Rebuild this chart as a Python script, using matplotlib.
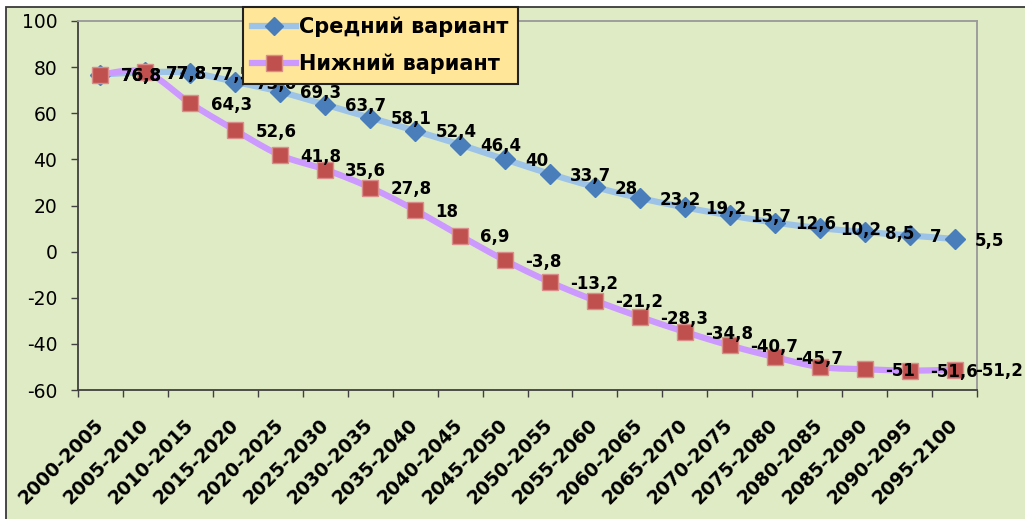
import numpy as np
import matplotlib
matplotlib.use('Agg')
import matplotlib.pyplot as plt
from matplotlib.lines import Line2D
from matplotlib.patches import Rectangle
from matplotlib.transforms import ScaledTranslation

categories = ['2000-2005', '2005-2010', '2010-2015', '2015-2020', '2020-2025',
              '2025-2030', '2030-2035', '2035-2040', '2040-2045', '2045-2050',
              '2050-2055', '2055-2060', '2060-2065', '2065-2070', '2070-2075',
              '2075-2080', '2080-2085', '2085-2090', '2090-2095', '2095-2100']
medium = [76.8, 77.8, 77.5, 73.6, 69.3, 63.7, 58.1, 52.4, 46.4, 40, 33.7, 28,
          23.2, 19.2, 15.7, 12.6, 10.2, 8.5, 7, 5.5]
lower = [76.8, 77.8, 64.3, 52.6, 41.8, 35.6, 27.8, 18, 6.9, -3.8, -13.2, -21.2,
         -28.3, -34.8, -40.7, -45.7, -50.0, -51, -51.6, -51.2]
lower_unlabeled = [16]
series_names = ['Средний вариант', 'Нижний вариант']
yticks = [-60, -40, -20, 0, 20, 40, 60, 80, 100]

BG = '#DFEBC5'
MED_LINE = '#9DC3E6'
MED_MARK = '#4A7EBB'
LOW_LINE = '#CC99FF'
LOW_MARK = '#C0504D'


def smooth(xs, ys, n=24):
    p = np.column_stack([xs, ys]).astype(float)
    p = np.vstack([p[0], p, p[-1]])
    out = []
    t = np.linspace(0, 1, n, endpoint=False)[:, None]
    for i in range(1, len(p) - 2):
        p0, p1, p2, p3 = p[i - 1], p[i], p[i + 1], p[i + 2]
        seg = 0.5 * ((2 * p1) + (-p0 + p2) * t + (2 * p0 - 5 * p1 + 4 * p2 - p3) * t ** 2
                     + (-p0 + 3 * p1 - 3 * p2 + p3) * t ** 3)
        out.append(seg)
    out.append(p[-2][None, :])
    out = np.vstack(out)
    return out[:, 0], out[:, 1]


fig = plt.figure(figsize=(10.25, 5.19), dpi=100, facecolor='white')
bg = Rectangle((6 / 1025, -0.01), 1.0, 1 - 7 / 519 + 0.01,
               transform=fig.transFigure, facecolor=BG,
               edgecolor='#3A3A3A', linewidth=1.3, zorder=-10)
fig.patches.append(bg)
ax = fig.add_axes([78 / 1025, 1 - 390 / 519, (977 - 78) / 1025, (390 - 21) / 519])
ax.set_zorder(1)
ax.set_facecolor(BG)

x = np.arange(len(categories))
sx, sy = smooth(x, medium)
ax.plot(sx, sy, color=MED_LINE, lw=4.5, solid_capstyle='round', zorder=2)
ax.plot(x, medium, ls='none', marker='D', ms=10.5, color=MED_MARK,
        mec=MED_MARK, zorder=2.1)
sx, sy = smooth(x, lower)
ax.plot(sx, sy, color=LOW_LINE, lw=4.5, solid_capstyle='round', zorder=2.2)
ax.plot(x, lower, ls='none', marker='s', ms=11, color=LOW_MARK,
        mec='#D98E8C', mew=1, zorder=2.3)


def fmt(v):
    return ('%g' % v).replace('.', ',')


for i, v in enumerate(medium):
    ax.annotate(fmt(v), (x[i], v), xytext=(14.5, -1.2), textcoords='offset points',
                ha='left', va='center', fontsize=12, fontweight='bold', zorder=3)
for i, v in enumerate(lower):
    if i in lower_unlabeled:
        continue
    ax.annotate(fmt(v), (x[i], v), xytext=(14.5, -1.2), textcoords='offset points',
                ha='left', va='center', fontsize=12, fontweight='bold', zorder=3)

ax.set_xlim(-0.5, len(categories) - 0.5)
ax.set_ylim(-60, 100)
ax.set_yticks(yticks)
ax.set_yticklabels([str(v) for v in yticks], fontsize=13.5)
ax.tick_params(axis='y', direction='out', length=5, width=1, color='#404040', pad=10)

ax.set_xticks(x)
ax.set_xticks(np.arange(len(categories) + 1) - 0.5, minor=True)
ax.tick_params(axis='x', which='major', length=0, pad=23)
ax.tick_params(axis='x', which='minor', direction='out', length=5, width=1, color='#404040')
ax.set_xticklabels(categories, rotation=45, ha='right', va='center',
                   rotation_mode='anchor', fontsize=13.5, fontweight='bold')
shift = ScaledTranslation(0 / 100, 0, fig.dpi_scale_trans)
for lab in ax.get_xticklabels():
    lab.set_transform(lab.get_transform() + shift)

for s in ['left', 'bottom']:
    ax.spines[s].set_color('#404040')
    ax.spines[s].set_linewidth(1.3)
for s in ['top', 'right']:
    ax.spines[s].set_color('#999999')
    ax.spines[s].set_linewidth(1.3)

handles = [Line2D([], [], color=MED_LINE, lw=4.5, marker='D', ms=9, mfc=MED_MARK, mec=MED_MARK),
           Line2D([], [], color=LOW_LINE, lw=4.5, marker='s', ms=11, mfc=LOW_MARK, mec='#D98E8C')]
leg = ax.legend(handles, series_names, loc='upper left',
                bbox_to_anchor=(243 / 1025, 1 - 7 / 519), bbox_transform=fig.transFigure,
                borderaxespad=0, fancybox=False, framealpha=1, facecolor='#FFE699',
                edgecolor='#222222', prop={'size': 15, 'weight': 'bold'},
                handlelength=2.1, handletextpad=0.15, labelspacing=0.82,
                borderpad=0.45)
leg.get_frame().set_linewidth(1.5)
leg.set_zorder(5)

fig.savefig('out.png', dpi=100, facecolor='white')
